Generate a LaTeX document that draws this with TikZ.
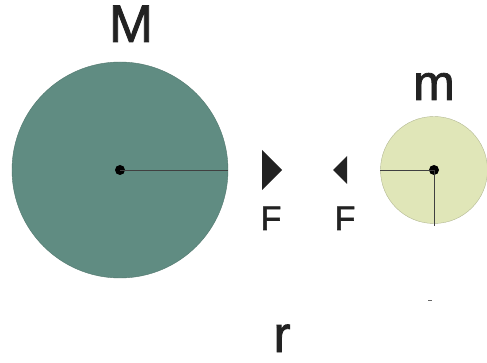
\documentclass[tikz,border=0pt]{standalone}
\usepackage{fontspec}
\setmainfont{Liberation Sans}
\newfontfamily\medfont[FakeBold=1.6]{Liberation Sans}
\definecolor{bigc}{RGB}{96,140,130}
\definecolor{smallc}{RGB}{224,230,184}
\definecolor{ink}{RGB}{34,34,34}
\begin{document}
\begin{tikzpicture}[x=1pt,y=-1pt,
  lbl/.style={text=ink,inner sep=0pt,anchor=base},
  rad/.style={draw=black!75,line width=0.9pt},
  ctr/.style={circle,fill=black,inner sep=0pt,minimum size=10pt}]
\useasboundingbox (0,0) rectangle (487,363);
\node[circle,fill=bigc,draw=bigc!85!black,line width=0.4pt,minimum size=216pt,inner sep=0pt] (M) at (120,170) {};
\node[circle,fill=smallc,draw=smallc!80!black,line width=0.4pt,minimum size=107pt,inner sep=0pt] (m) at (434,170) {};
\node[ctr] (Mc) at (120,170) {};
\node[ctr] (mc) at (434,170) {};
\draw[rad] (Mc.center) -- (M.east);
\draw[rad] (m.west) -- (mc.center);
\draw[rad] (mc.center) -- ([yshift=-2pt]m.south);
\fill[ink] (262,150) -- (282,170) -- (262,190) -- cycle;
\fill[ink] (347,156) -- (333,170) -- (347,184) -- cycle;
\node[lbl,font=\medfont\fontsize{53}{53}\selectfont] (tM) at (131,42) {M};
\node[lbl,font=\medfont\fontsize{50}{50}\selectfont] (tm) at (434,100) {m};
\node[lbl,font=\medfont\fontsize{34}{34}\selectfont] (F1) at (271,230) {F};
\node[lbl,font=\medfont\fontsize{34}{34}\selectfont] (F2) at (345,230) {F};
\node[lbl,font=\medfont\fontsize{51}{51}\selectfont] (r) at (282,352) {r};
\draw[black!60,line width=1pt] (428,300) -- (432,300);
\end{tikzpicture}
\end{document}
